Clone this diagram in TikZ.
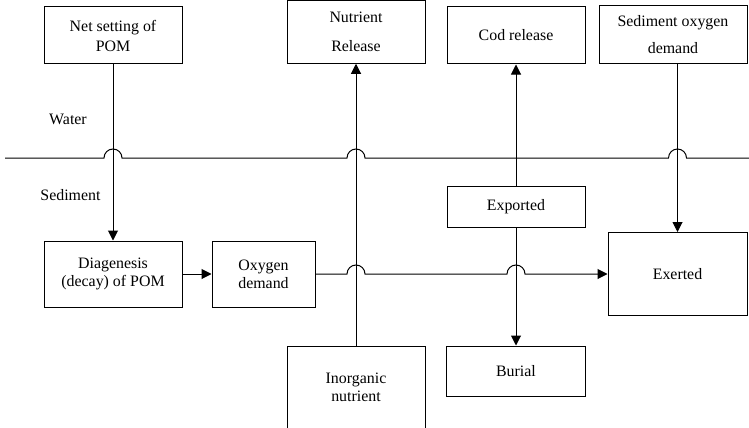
\documentclass[tikz,border=0pt]{standalone}
\usepackage{fontspec}
\setmainfont{Liberation Serif}
\usetikzlibrary{arrows.meta,calc}

\begin{document}
\begin{tikzpicture}[x=1pt,y=-1pt,
  box/.style={draw,line width=1pt,align=center,inner sep=0pt,font=\fontsize{15.9}{18}\selectfont},
  lbl/.style={font=\fontsize{15.9}{18}\selectfont},
  plain/.style={line width=1pt},
  arr/.style={line width=1pt,-{Triangle[length=10pt,width=10pt]}}]
\useasboundingbox (0,0) rectangle (749,428);
% top row (water)
\node[box,minimum width=138pt,minimum height=57pt] (pom) at (113,35.5) {Net setting of\\[2pt]POM};
\node[box,minimum width=138pt,minimum height=62.5pt] (nrel) at (356,32) {Nutrient\\[11pt]Release};
\node[box,minimum width=138pt,minimum height=57pt] (cod) at (516,35.5) {Cod release};
\node[box,minimum width=148pt,minimum height=58pt] (sod) at (673,35) {Sediment oxygen\\[9pt]demand};
% sediment side
\node[box,minimum width=138pt,minimum height=41pt] (exported) at (516,206.5) {Exported};
\node[box,minimum width=138pt,minimum height=66pt] (diag) at (113,274) {Diagenesis\\(decay) of POM};
\node[box,minimum width=103pt,minimum height=66pt] (oxy) at (263.5,274) {Oxygen\\demand};
\node[box,minimum width=139pt,minimum height=83pt] (exerted) at (677.5,274) {Exerted};
\node[box,minimum width=138pt,minimum height=83pt] (inorg) at (356,387.5) {Inorganic\\nutrient};
\node[box,minimum width=139pt,minimum height=50pt] (burial) at (516,371) {Burial};
\node[lbl] (water) at (68,119) {Water};
\node[lbl] (sediment) at (70.5,195) {Sediment};
% water/sediment interface
\coordinate (wl) at (5,158);
\coordinate (wr) at (749,158);
\draw[plain] (wl) -- ($(wl -| pom.south)+(-9pt,0)$) arc[start angle=180,end angle=0,radius=9pt]
  -- ($(wl -| nrel.south)+(-9pt,0)$) arc[start angle=180,end angle=0,radius=9pt]
  -- ($(wl -| exerted.north)+(-9pt,0)$) arc[start angle=180,end angle=0,radius=9pt] -- (wr);
% fluxes
\draw[arr] (pom.south) -- (diag.north);
\draw[arr] (diag.east) -- (oxy.west);
\draw[arr] (oxy.east) -- ($(oxy.east -| inorg.north)+(-9pt,0)$) arc[start angle=180,end angle=0,radius=9pt]
  -- ($(oxy.east -| burial.north)+(-9pt,0)$) arc[start angle=180,end angle=0,radius=9pt] -- (exerted.west);
\draw[arr] (inorg.north) -- (nrel.south);
\draw[arr] (exported.north) -- (cod.south);
\draw[arr] (exported.south) -- (burial.north);
\draw[arr] (sod.south -| exerted.north) -- (exerted.north);
\end{tikzpicture}
\end{document}
